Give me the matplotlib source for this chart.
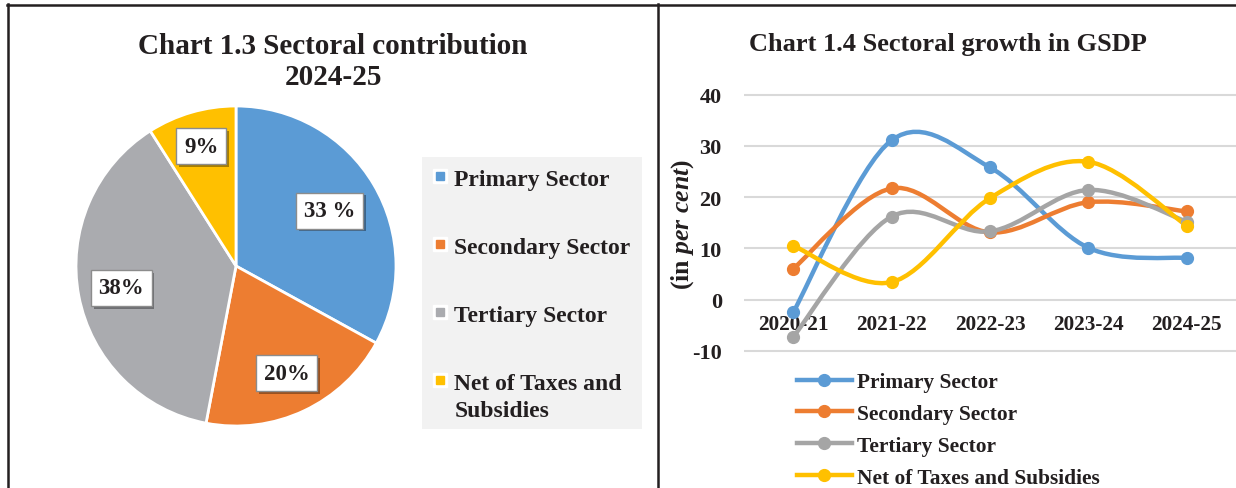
import matplotlib
matplotlib.use('Agg')
import matplotlib.pyplot as plt
import numpy as np
from matplotlib.lines import Line2D
from matplotlib.patches import Rectangle, PathPatch
from matplotlib.path import Path
from matplotlib import patheffects

plt.rcParams['font.family'] = ['Liberation Serif', 'DejaVu Serif']
plt.rcParams['font.weight'] = 'bold'
plt.rcParams['axes.unicode_minus'] = False
plt.rcParams['mathtext.fontset'] = 'custom'
plt.rcParams['mathtext.rm'] = 'Liberation Serif:bold'
plt.rcParams['mathtext.it'] = 'Liberation Serif:italic:bold'

# pie data
sectors = ['Primary Sector', 'Secondary Sector', 'Tertiary Sector', 'Net of Taxes and', 'Subsidies']
share = [33, 20, 38, 9]
share_labels = ['33 %', '20%', '38%', '9%']
pie_colors = ['#5B9BD5', '#ED7D31', '#AAABAF', '#FFC000']

# line data
years = ['2020-21', '2021-22', '2022-23', '2023-24', '2024-25']
primary = [-2.5, 31.1, 25.8, 10.1, 8.1]
secondary = [6.0, 21.7, 13.1, 19.0, 17.2]
tertiary = [-7.3, 16.2, 13.3, 21.4, 15.2]
net_taxes = [10.5, 3.4, 19.8, 26.9, 14.4]
line_names = ['Primary Sector', 'Secondary Sector', 'Tertiary Sector', 'Net of Taxes and Subsidies']
line_colors = ['#5B9BD5', '#ED7D31', '#A5A5A5', '#FFC000']

W, H = 1236, 489
fig = plt.figure(figsize=(W / 100, H / 100), dpi=100)


def fx(px):
    return px / W


def fy(py):
    return 1 - py / H


# frame lines
border = dict(color='#231F20', lw=1.8, transform=fig.transFigure)
fig.add_artist(Line2D([fx(7), 1], [fy(5.5), fy(5.5)], **border))
fig.add_artist(Line2D([fx(7.5), fx(7.5)], [fy(5), 0], **border))
fig.add_artist(Line2D([fx(658), fx(658)], [fy(5), 0], **border))

# ---- pie chart ----
fig.text(fx(333), fy(62), 'Chart 1.3 Sectoral contribution\n2024-25', ha='center', va='center',
         fontsize=21, fontweight='bold', linespacing=1.22, color='#231F20')

ax1 = fig.add_axes([fx(76), fy(427), fx(320), 320 / H])
wedges, _ = ax1.pie(share, colors=pie_colors, startangle=90, counterclock=False,
                    wedgeprops=dict(edgecolor='white', linewidth=2))
ax1.set_xlim(-1, 1)
ax1.set_ylim(-1, 1)

label_r = [0.68, 0.74, 0.73, 0.78]
for w, lab, r in zip(wedges, share_labels, label_r):
    ang = np.deg2rad((w.theta1 + w.theta2) / 2)
    t = ax1.text(r * np.cos(ang), r * np.sin(ang), lab, ha='center', va='center',
                 fontsize=16.5, fontweight='bold', color='#231F20',
                 bbox=dict(boxstyle='square,pad=0.33', facecolor='white', edgecolor='#8C8C8C', linewidth=1))
    t.get_bbox_patch().set_path_effects([
        patheffects.SimplePatchShadow(offset=(2, -2), shadow_rgbFace='black', alpha=0.35),
        patheffects.Normal()])

fig.add_artist(Rectangle((fx(422), fy(430)), fx(220), 272 / H, transform=fig.transFigure,
                         facecolor='#F2F2F2', edgecolor='none', zorder=0))
handles = []
for c in pie_colors:
    handles.append((Line2D([], [], marker='s', ls='none', color='white', markersize=10),
                    Line2D([], [], marker='s', ls='none', color=c, markersize=6)))
leg1 = fig.legend(handles, sectors[:4], loc='upper left', bbox_to_anchor=(fx(433), fy(169)),
                  frameon=False, fontsize=17, handlelength=0.6, handletextpad=0.3,
                  labelspacing=1.97, borderpad=0, borderaxespad=0)
for txt in leg1.get_texts():
    txt.set_fontweight('bold')
    txt.set_color('#231F20')

# second line of the last legend entry
fig.canvas.draw()
bb = leg1.get_texts()[3].get_window_extent()
fig.text(bb.x0 / W, (bb.y0 + bb.y1) / 2 / H - 27 / H, sectors[4], ha='left', va='center',
         fontsize=17, fontweight='bold', color='#231F20')

# ---- line chart ----
fig.text(fx(948), fy(45), 'Chart 1.4 Sectoral growth in GSDP', ha='center', va='center',
         fontsize=19, fontweight='bold', color='#231F20')

ppu = 5.12
top_px = 95.7 - 0.5 * ppu
bot_px = 351.7 + 0.5 * ppu
ax2 = fig.add_axes([fx(744), fy(bot_px), fx(1236 - 744), (bot_px - top_px) / H])
ax2.set_xlim(-0.5, 4.5)
ax2.set_ylim(-10.5, 40.5)
ax2.set_yticks(range(-10, 41, 10))
ax2.grid(axis='y', color='#D9D9D9', linewidth=1.5)
ax2.set_axisbelow(True)
for s in ax2.spines.values():
    s.set_visible(False)
ax2.spines['bottom'].set_position(('data', 0))
ax2.set_xticks(range(len(years)))
ax2.set_xticklabels(years)
ax2.tick_params(axis='x', length=0, pad=10.5, labelsize=15.3)
ax2.tick_params(axis='y', length=0, pad=16, labelsize=16)
for lab in ax2.get_xticklabels() + ax2.get_yticklabels():
    lab.set_fontweight('bold')
    lab.set_color('#231F20')


def smooth_path(xs, ys):
    pts = np.column_stack([xs, ys]).astype(float)
    ext = np.vstack([pts[0], pts, pts[-1]])
    verts = [pts[0]]
    codes = [Path.MOVETO]
    for i in range(len(pts) - 1):
        p0, p1, p2, p3 = ext[i], ext[i + 1], ext[i + 2], ext[i + 3]
        c1 = p1 + (p2 - p0) / 6
        c2 = p2 - (p3 - p1) / 6
        verts += [c1, c2, p2]
        codes += [Path.CURVE4] * 3
    return Path(verts, codes)


xs = np.arange(len(years))
series = [primary, secondary, tertiary, net_taxes]
line_handles = []
for vals, c, name in zip(series, line_colors, line_names):
    ax2.add_patch(PathPatch(smooth_path(xs, vals), facecolor='none', edgecolor=c,
                            linewidth=3.2, capstyle='round', zorder=3))
    ax2.plot(xs, vals, ls='none', marker='o', markersize=8.5, color=c, zorder=4)
    line_handles.append(Line2D([], [], color=c, linewidth=3.2, marker='o', markersize=8.5))

leg2 = fig.legend(line_handles, line_names, loc='upper left', bbox_to_anchor=(fx(797), fy(373)),
                  frameon=False, fontsize=15.4, handlelength=2.55, handletextpad=0.25,
                  labelspacing=0.56, borderpad=0, borderaxespad=0)
for txt in leg2.get_texts():
    txt.set_fontweight('bold')
    txt.set_color('#231F20')

fig.text(fx(683), fy(224), r'(in $\mathit{per\ cent}$)', rotation=90, ha='center', va='center',
         fontsize=18.5, fontweight='bold', color='#231F20')

fig.savefig('out.png', dpi=100)
